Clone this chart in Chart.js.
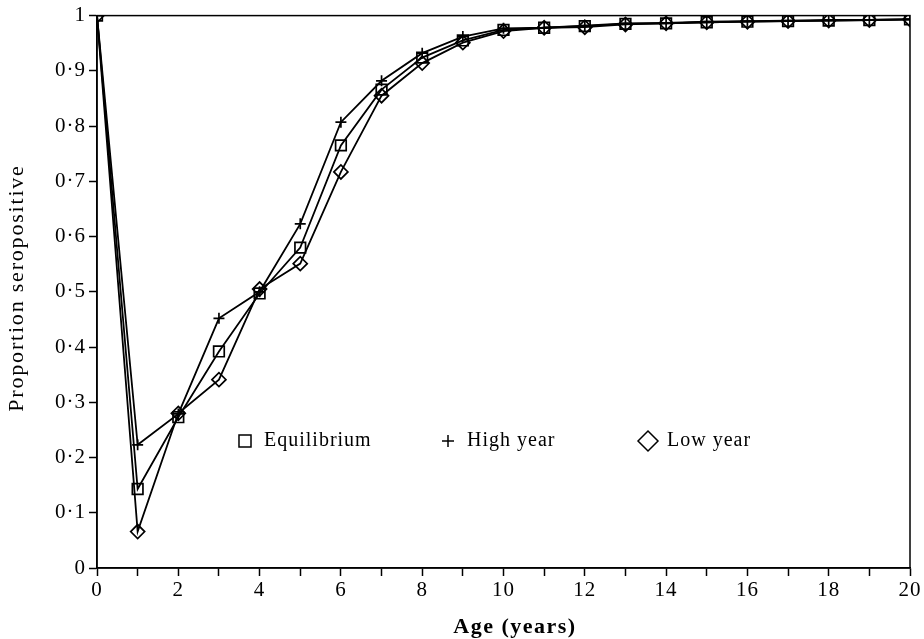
<!DOCTYPE html>
<html>
<head>
<meta charset="utf-8">
<script src="https://cdn.jsdelivr.net/npm/chart.js@4/dist/chart.umd.min.js"></script>
<style>
  html, body { margin: 0; padding: 0; background: #fff; }
  #wrap { width: 924px; height: 639px; }
</style>
</head>
<body>
<div id="wrap"><canvas id="seroChart" width="924" height="639"></canvas></div>
<script>
// 年齡（年）
var ages = [0, 1, 2, 3, 4, 5, 6, 7, 8, 9, 10, 11, 12, 13, 14, 15, 16, 17, 18, 19, 20];

// 各情境的血清陽性比例
var equilibrium = [1.0, 0.143, 0.273, 0.392, 0.497, 0.580, 0.765, 0.866, 0.924, 0.955, 0.974, 0.978, 0.981, 0.985, 0.986, 0.988, 0.989, 0.990, 0.991, 0.992, 0.993];
var highYear    = [1.0, 0.223, 0.279, 0.452, 0.500, 0.623, 0.807, 0.882, 0.932, 0.962, 0.977, 0.978, 0.982, 0.986, 0.987, 0.989, 0.990, 0.991, 0.992, 0.992, 0.993];
var lowYear     = [1.0, 0.066, 0.280, 0.341, 0.505, 0.551, 0.717, 0.855, 0.914, 0.951, 0.972, 0.978, 0.979, 0.984, 0.986, 0.988, 0.989, 0.990, 0.991, 0.992, 0.993];

var seriesNames = ['Equilibrium', 'High year', 'Low year'];
var seriesStyles = ['rect', 'cross', 'rectRot'];
var xTitle = 'Age (years)';
var yTitle = 'Proportion seropositive';

const serif = "'Liberation Serif', 'DejaVu Serif', serif";

function toPoints(arr) {
  return arr.map(function (v, i) { return { x: ages[i], y: v }; });
}

// 舊式印刷字距較寬
const spacingPlugin = {
  id: 'spacing',
  beforeLayout: function (chart) { chart.ctx.letterSpacing = '1px'; },
  beforeDraw: function (chart) { chart.ctx.letterSpacing = '1px'; }
};

// 圖框、軸標題、圖內圖例
const framePlugin = {
  id: 'frame',
  afterDraw: function (chart) {
    const ctx = chart.ctx;
    const a = chart.chartArea;
    ctx.save();
    ctx.strokeStyle = '#000';
    ctx.lineWidth = 1.5;
    ctx.strokeRect(a.left, a.top, a.right - a.left, a.bottom - a.top);

    ctx.fillStyle = '#000';
    ctx.textBaseline = 'middle';
    ctx.textAlign = 'center';

    // X 軸標題
    ctx.letterSpacing = '1.5px';
    ctx.font = 'bold 22px ' + serif;
    ctx.fillText(xTitle, 515, 627);

    // Y 軸標題
    ctx.save();
    ctx.letterSpacing = '1.8px';
    ctx.font = '22px ' + serif;
    ctx.translate(17, 288);
    ctx.rotate(-Math.PI / 2);
    ctx.fillText(yTitle, 0, 0);
    ctx.restore();

    // 圖例
    const legendX = [245, 448, 648];
    const legendY = 441;
    const legendR = [8.5, 6, 10];
    ctx.letterSpacing = '1px';
    ctx.font = '20px ' + serif;
    ctx.textAlign = 'left';
    seriesNames.forEach(function (name, i) {
      ctx.fillStyle = 'rgba(0,0,0,0)';
      ctx.strokeStyle = '#000';
      Chart.helpers.drawPoint(ctx, {
        pointStyle: seriesStyles[i],
        radius: legendR[i],
        borderWidth: 1.8
      }, legendX[i], legendY);
      ctx.fillStyle = '#000';
      ctx.fillText(name, legendX[i] + 19, legendY);
    });
    ctx.restore();
  }
};

const ctxSero = document.getElementById('seroChart').getContext('2d');
const dataSero = {
  datasets: [
    {
      label: seriesNames[0],
      data: toPoints(equilibrium),
      pointStyle: 'rect',
      pointRadius: 7.5,
      borderColor: '#000',
      backgroundColor: 'rgba(255,255,255,0)',
      borderWidth: 1.8,
      pointBorderWidth: 1.7
    },
    {
      label: seriesNames[1],
      data: toPoints(highYear),
      pointStyle: 'cross',
      pointRadius: 5.5,
      borderColor: '#000',
      backgroundColor: '#000',
      borderWidth: 1.8,
      pointBorderWidth: 1.7
    },
    {
      label: seriesNames[2],
      data: toPoints(lowYear),
      pointStyle: 'rectRot',
      pointRadius: 7,
      borderColor: '#000',
      backgroundColor: 'rgba(255,255,255,0)',
      borderWidth: 1.8,
      pointBorderWidth: 1.7
    }
  ]
};

const configSero = {
  type: 'line',
  data: dataSero,
  plugins: [spacingPlugin, framePlugin],
  options: {
    responsive: false,
    animation: false,
    layout: { padding: { top: 15, right: 14, left: 0, bottom: 0 } },
    plugins: {
      legend: { display: false },
      tooltip: { enabled: false }
    },
    elements: { line: { tension: 0 } },
    scales: {
      x: {
        type: 'linear',
        min: 0,
        max: 20,
        afterFit: function (s) { s.height = 71; },
        ticks: {
          stepSize: 1,
          autoSkip: false,
          maxRotation: 0,
          color: '#000',
          font: { family: serif, size: 21 },
          padding: 2,
          callback: function (v) { return v % 2 === 0 ? String(v) : ''; }
        },
        grid: {
          drawOnChartArea: false,
          drawTicks: true,
          tickLength: 8,
          tickWidth: 1.5,
          color: '#000'
        },
        border: { display: true, color: '#000', width: 1.5 }
      },
      y: {
        min: 0,
        max: 1,
        afterFit: function (s) { s.width = 97; },
        ticks: {
          stepSize: 0.1,
          color: '#000',
          font: { family: serif, size: 21 },
          padding: 3,
          callback: function (v) {
            var r = Math.round(v * 10) / 10;
            if (r === 0) return '0';
            if (r === 1) return '1';
            return r.toFixed(1).replace('.', '·');
          }
        },
        grid: {
          drawOnChartArea: false,
          drawTicks: true,
          tickLength: 8,
          tickWidth: 1.5,
          color: '#000'
        },
        border: { display: true, color: '#000', width: 1.5 }
      }
    }
  }
};
const seroChart = new Chart(ctxSero, configSero);
</script>
</body>
</html>
